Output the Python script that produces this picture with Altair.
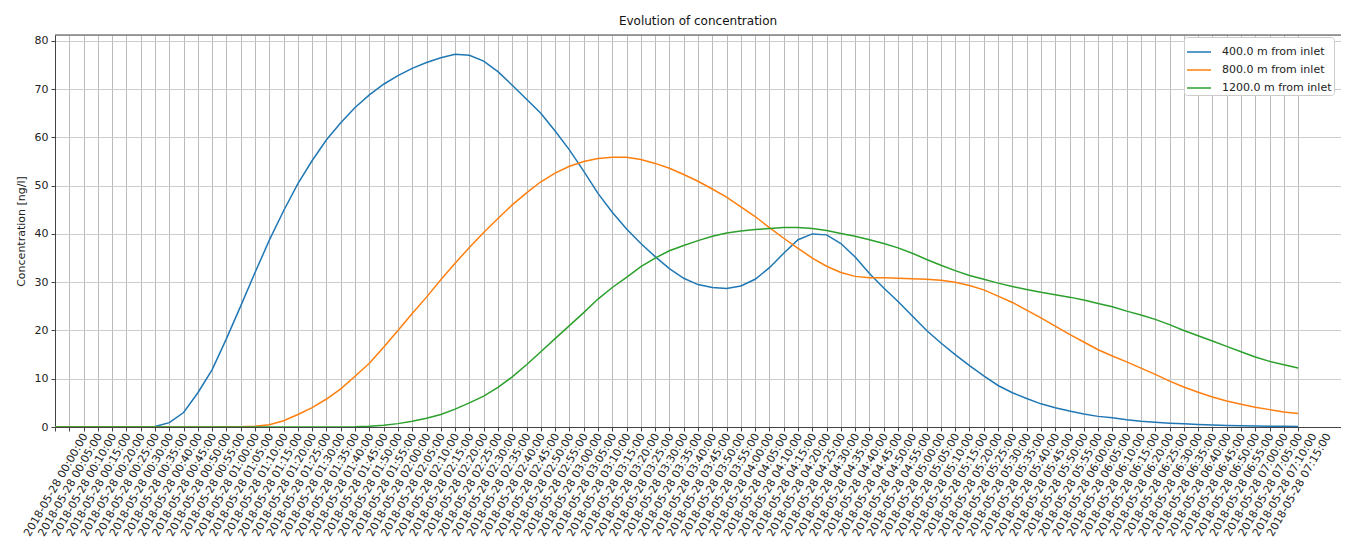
import altair as alt
import pandas as pd

# ---- data ----
times = pd.date_range("2018-05-28 00:00:00", periods=88, freq="5min")
time_iso = times.strftime("%Y-%m-%dT%H:%M:%SZ").tolist()

series_names = ["400.0 m from inlet", "800.0 m from inlet", "1200.0 m from inlet"]
series_colors = ["#1f77b4", "#ff7f0e", "#2ca02c"]

conc_400 = [0, 0, 0, 0, 0, 0, 0, 0.1, 0.9, 3.0,
            7.1, 11.9, 18.3, 25.1, 32.0, 38.7, 44.8, 50.4, 55.2, 59.5,
            63.0, 66.2, 68.8, 71.0, 72.8, 74.3, 75.5, 76.5, 77.2, 77.0,
            75.8, 73.6, 70.8, 67.9, 65.0, 61.3, 57.4, 53.0, 48.4, 44.5,
            41.0, 38.0, 35.3, 32.8, 30.8, 29.5, 28.9, 28.7, 29.2, 30.6,
            33.0, 36.0, 38.8, 40.0, 39.8, 38.0, 35.2, 31.8, 28.8, 26.0,
            23.0, 20.0, 17.4, 15.0, 12.7, 10.6, 8.6, 7.1, 5.9, 4.8,
            4.0, 3.3, 2.7, 2.2, 1.9, 1.5, 1.2, 1.0, 0.8, 0.65,
            0.5, 0.4, 0.33, 0.27, 0.22, 0.18, 0.15, 0.12]

conc_800 = [0, 0, 0, 0, 0, 0, 0, 0, 0, 0,
            0, 0.01, 0.03, 0.05, 0.15, 0.45, 1.3, 2.6, 4.0, 5.8,
            7.9, 10.5, 13.2, 16.5, 20.0, 23.5, 26.9, 30.5, 33.9, 37.2,
            40.3, 43.2, 46.0, 48.5, 50.8, 52.6, 54.0, 55.0, 55.6, 55.9,
            55.9, 55.4, 54.6, 53.6, 52.3, 50.9, 49.3, 47.6, 45.6, 43.6,
            41.3, 39.1, 37.0, 35.0, 33.3, 32.0, 31.2, 30.9, 30.9, 30.8,
            30.7, 30.6, 30.4, 30.0, 29.3, 28.4, 27.1, 25.8, 24.2, 22.6,
            20.9, 19.2, 17.6, 16.0, 14.7, 13.5, 12.2, 10.9, 9.5, 8.3,
            7.2, 6.2, 5.4, 4.7, 4.1, 3.6, 3.1, 2.8]

conc_1200 = [0, 0, 0, 0, 0, 0, 0, 0, 0, 0,
             0, 0, 0, 0, 0, 0, 0, 0, 0, 0,
             0.02, 0.05, 0.15, 0.35, 0.7, 1.2, 1.8, 2.6, 3.7, 5.0,
             6.4, 8.2, 10.4, 12.9, 15.6, 18.3, 21.0, 23.7, 26.5, 28.9,
             31.0, 33.2, 35.0, 36.5, 37.6, 38.6, 39.5, 40.2, 40.6, 40.9,
             41.1, 41.3, 41.3, 41.1, 40.7, 40.1, 39.5, 38.8, 38.0, 37.1,
             36.0, 34.7, 33.5, 32.4, 31.4, 30.6, 29.8, 29.1, 28.5, 27.9,
             27.4, 26.9, 26.3, 25.6, 24.9, 24.0, 23.2, 22.3, 21.2, 20.0,
             18.9, 17.8, 16.7, 15.6, 14.5, 13.6, 12.9, 12.2]

y_ticks = [0, 10, 20, 30, 40, 50, 60, 70, 80]

# ---- build long table ----
rows = []
for name, vals in zip(series_names, [conc_400, conc_800, conc_1200]):
    for t, v in zip(time_iso, vals):
        rows.append({"time": t, "value": v, "series": name})
df = pd.DataFrame(rows)

t0_ms = int(pd.Timestamp("2018-05-28 00:00:00", tz="UTC").value // 10**6)
tick_ms = [t0_ms + i * 5 * 60 * 1000 for i in range(len(times))]
domain_end_ms = t0_ms + 450 * 60 * 1000

W, H = 1286, 392
FONT = "DejaVu Sans"

lines = alt.Chart(df).mark_line(strokeWidth=1.5, clip=True).encode(
    x=alt.X(
        "time:T",
        scale=alt.Scale(type="utc", domain=[t0_ms, domain_end_ms]),
        axis=alt.Axis(
            values=tick_ms,
            labelExpr="utcFormat(datum.value, '%Y-%m-%d %H:%M:%S')",
            labelAngle=300,
            labelAlign="right",
            labelBaseline="middle",
            labelOffset=30,
            labelPadding=3,
            labelFontSize=11,
            labelFont=FONT,
            labelColor="#222222",
            labelOverlap=False,
            labelFlush=False,
            labelBound=False,
            tickSize=4,
            tickColor="#444444",
            domainColor="#444444",
            grid=True,
            gridColor="#b4b4b4",
            gridWidth=0.9,
            title=None,
        ),
    ),
    y=alt.Y(
        "value:Q",
        scale=alt.Scale(domain=[0, 81.2], nice=False, zero=False),
        axis=alt.Axis(
            values=y_ticks,
            labelFontSize=11,
            labelFont=FONT,
            labelColor="#222222",
            labelPadding=3,
            tickSize=4,
            tickColor="#444444",
            domainColor="#444444",
            grid=True,
            gridColor="#c8c8c8",
            gridWidth=0.9,
            title="Concentration [ng/l]",
            titleFont=FONT,
            titleFontSize=11,
            titleFontWeight="normal",
            titleColor="#222222",
            titlePadding=8,
        ),
    ),
    color=alt.Color(
        "series:N",
        sort=series_names,
        scale=alt.Scale(domain=series_names, range=series_colors),
        legend=alt.Legend(
            orient="none",
            legendX=1129,
            legendY=2,
            title=None,
            symbolType="stroke",
            symbolStrokeWidth=1.5,
            symbolSize=576,
            labelFont=FONT,
            labelFontSize=11,
            labelColor="#222222",
            labelOffset=10,
            rowPadding=0,
            padding=2,
            fillColor="white",
            strokeColor="#cccccc",
            cornerRadius=3,
        ),
    ),
)

top_spine = alt.Chart(pd.DataFrame({"k": [0]})).mark_rule(color="#444444", strokeWidth=1).encode(
    x=alt.value(0), x2=alt.value(W), y=alt.value(0)
)

chart = (
    alt.layer(lines, top_spine)
    .properties(
        width=W,
        height=H,
        title=alt.TitleParams("Evolution of concentration", fontSize=12, font=FONT,
                              fontWeight="normal", color="#111111", offset=7, anchor="middle"),
        autosize=alt.AutoSizeParams(type="none"),
        padding={"left": 47, "top": 27, "right": 0, "bottom": 124},
    )
    .configure_view(stroke=None)
    .configure(background="white")
)

chart.save("out.html", embed_options={"renderer": "svg", "actions": False})
